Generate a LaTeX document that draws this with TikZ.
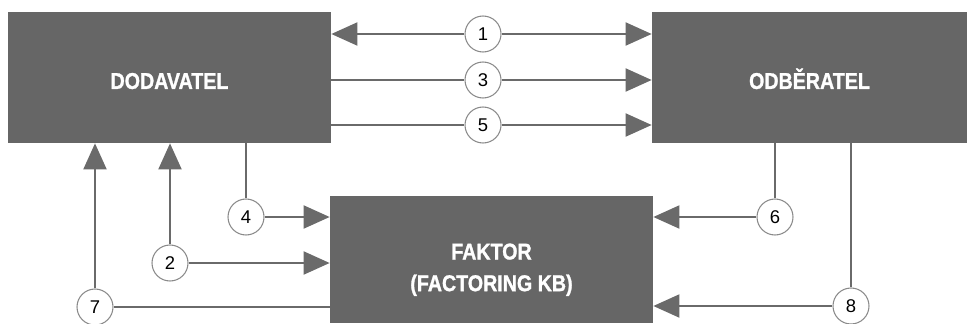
\documentclass[tikz,border=0pt]{standalone}
\usepackage{fontspec}
\setmainfont{Liberation Sans}
\newfontfamily\boxfont{Liberation Sans}[FakeStretch=0.86, BoldFeatures={FakeBold=1.2}]
\usetikzlibrary{arrows.meta}

\definecolor{boxgray}{HTML}{666666}
\definecolor{linegray}{HTML}{6A6A6A}
\definecolor{ringgray}{HTML}{8A8A8A}

\begin{document}
\begin{tikzpicture}[
    party/.style={fill=boxgray, text=white, font=\boxfont\bfseries\fontsize{13}{18}\selectfont, align=center, inner sep=0pt, text depth=0pt},
    num/.style={circle, draw=ringgray, line width=0.6pt, fill=white, minimum size=0.72cm, inner sep=0pt, font=\fontsize{10.5}{12}\selectfont},
    flow/.style={draw=linegray, line width=1.1pt},
    arr/.style={flow, -{Triangle[length=0.52cm, width=0.46cm]}}
]

    % Fix the page size
    \useasboundingbox (0,0) rectangle (19.34,6.46);

    % Draw the three parties
    \node[party, minimum width=6.46cm, minimum height=2.62cm, text height=13pt] (dod) at (3.39,4.91) {DODAVATEL};
    \node[party, minimum width=6.3cm, minimum height=2.62cm, text height=13pt] (odb) at (16.19,4.91) {ODBĚRATEL};
    \node[party, minimum width=6.46cm, minimum height=2.54cm, text height=36pt] (fak) at (9.83,1.27) {FAKTOR\\(FACTORING KB)};

    % Numbered steps
    \node[num] (n1) at (9.66,5.78) {1};
    \node[num] (n3) at (9.66,4.86) {3};
    \node[num] (n5) at (9.66,3.96) {5};
    \node[num] (n4) at (4.92,2.12) {4};
    \node[num] (n2) at (3.40,1.20) {2};
    \node[num] (n7) at (1.90,0.32) {7};
    \node[num] (n6) at (15.50,2.12) {6};
    \node[num] (n8) at (17.02,0.34) {8};

    % Flows between supplier and customer
    \draw[arr] (n1) -- (dod.east |- n1);
    \draw[arr] (n1) -- (odb.west |- n1);
    \draw[flow] (dod.east |- n3) -- (n3);
    \draw[arr] (n3) -- (odb.west |- n3);
    \draw[flow] (dod.east |- n5) -- (n5);
    \draw[arr] (n5) -- (odb.west |- n5);

    % Flows on the supplier side
    \draw[flow] (dod.south -| n4) -- (n4);
    \draw[arr] (n4) -- (fak.west |- n4);
    \draw[arr] (n2) -- (dod.south -| n2);
    \draw[arr] (n2) -- (fak.west |- n2);
    \draw[arr] (n7) -- (dod.south -| n7);
    \draw[flow] (fak.west |- n7) -- (n7);

    % Flows on the customer side
    \draw[flow] (odb.south -| n6) -- (n6);
    \draw[arr] (n6) -- (fak.east |- n6);
    \draw[flow] (odb.south -| n8) -- (n8);
    \draw[arr] (n8) -- (fak.east |- n8);

\end{tikzpicture}
\end{document}
